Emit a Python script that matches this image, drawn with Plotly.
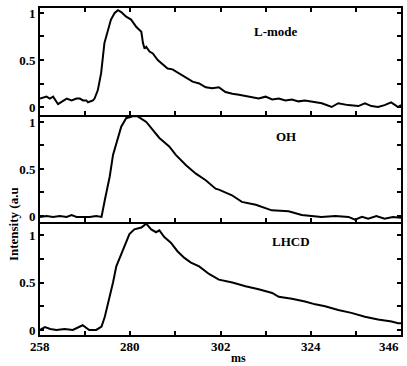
import plotly.graph_objects as go
from plotly.subplots import make_subplots

# ---- data ----
lmode_t = [258, 259.6, 260.4, 261.2, 262.4, 263.6, 264.5, 265.7, 266.9, 267.7, 268.5, 269.3, 269.7, 270.9, 271.3,
           272.1, 272.9, 273.7, 274.5, 275.3, 276.2, 277.0, 277.8, 279.0, 280.2, 281.5, 282.7, 283.1, 283.5, 283.9,
           284.7, 285.5, 286.7, 287.9, 289.1, 290.3, 291.9, 293.6, 295.2, 296.8, 298.4, 300.0, 301.6, 303.2, 304.9,
           306.5, 308.9, 311.3, 313.0, 314.6, 316.2, 317.8, 319.4, 321.0, 322.6, 324.2, 326.7, 329.1, 330.7, 333.1,
           335.6, 337.2, 338.8, 340.4, 342.0, 343.6, 345.3, 346]
lmode_v = [0.09, 0.11, 0.09, 0.11, 0.03, 0.07, 0.09, 0.07, 0.09, 0.09, 0.07, 0.07, 0.05, 0.07, 0.09,
           0.18, 0.36, 0.68, 0.82, 0.93, 1.00, 1.03, 1.01, 0.96, 0.93, 0.85, 0.80, 0.68, 0.62, 0.64,
           0.59, 0.57, 0.50, 0.45, 0.41, 0.40, 0.36, 0.31, 0.27, 0.25, 0.21, 0.20, 0.21, 0.16, 0.14,
           0.13, 0.11, 0.09, 0.11, 0.08, 0.09, 0.07, 0.08, 0.06, 0.07, 0.06, 0.04, 0.00, 0.04, 0.02,
           0.01, 0.04, 0.01, 0.00, 0.02, 0.05, 0.00, 0.02]

oh_t = [258, 259.6, 261.2, 262.8, 264.5, 265.7, 266.9, 268.5, 270.1, 271.7, 273.0,
        273.8, 275.0, 275.8, 277.0, 277.8, 279.0, 280.6, 281.8, 283.9, 287.1, 289.5, 291.1, 293.6,
        296.0, 298.4, 300.8, 301.6, 304.8, 307.2, 310.6, 314.5, 318.6, 321.8, 326.6, 330.0, 333.2,
        334.8, 336.5, 338.0, 340.0, 342.0, 344.0, 346]
oh_v = [-0.01, 0.00, -0.01, 0.00, -0.01, 0.01, -0.01, -0.01, -0.01, 0.00, -0.01,
        0.17, 0.42, 0.65, 0.84, 0.95, 1.04, 1.06, 1.06, 1.00, 0.83, 0.74, 0.65, 0.54,
        0.45, 0.38, 0.29, 0.28, 0.22, 0.15, 0.12, 0.06, 0.05, 0.01, -0.01, 0.00, -0.01,
        -0.04, -0.01, -0.03, 0.00, -0.03, -0.01, -0.02]

lhcd_t = [258, 259.2, 260.5, 262.0, 264.0, 266.0, 268.4, 270.0, 271.7, 273.0, 273.8, 274.6, 275.8, 276.6,
          277.4, 278.6, 279.8, 281.0, 282.7, 283.9, 285.1, 286.3, 287.1, 288.3, 289.9, 291.5, 293.2,
          294.8, 296.8, 299.2, 301.6, 304.9, 308.1, 311.3, 314.6, 316.2, 317.8, 319.4, 322.6, 325.1,
          327.5, 330.7, 333.9, 337.2, 340.4, 343.7, 345.3, 346]
lhcd_v = [0.00, 0.03, 0.01, 0.00, 0.01, 0.00, 0.05, 0.00, 0.00, 0.035, 0.14, 0.28, 0.50, 0.67,
          0.76, 0.88, 1.01, 1.06, 1.08, 1.12, 1.06, 1.03, 1.05, 0.98, 0.92, 0.83, 0.76,
          0.71, 0.67, 0.59, 0.53, 0.50, 0.46, 0.43, 0.39, 0.35, 0.34, 0.33, 0.30, 0.27,
          0.25, 0.21, 0.18, 0.14, 0.11, 0.09, 0.07, 0.07]

x_ticks = [258, 269, 280, 291, 302, 313, 324, 335, 346]
x_label_vals = [258, 280, 302, 324, 346]
x_labels = ["258", "280", "302", "324", "346"]
y_ticks = [0, 0.25, 0.5, 0.75, 1]
y_labels = ["0", "", "0.5", "", "1"]
panel_names = ["L-mode", "OH", "LHCD"]

FONT = "Liberation Serif"

fig = make_subplots(rows=3, cols=1, shared_xaxes=True, vertical_spacing=0)
series = [(lmode_t, lmode_v), (oh_t, oh_v), (lhcd_t, lhcd_v)]
for i, (t, v) in enumerate(series, start=1):
    fig.add_trace(go.Scatter(x=t, y=v, mode="lines", line=dict(color="black", width=2),
                             showlegend=False, hoverinfo="skip"), row=i, col=1)

domains = [[0.6728, 1.0], [0.3456, 0.6728], [0.0, 0.3456]]
ranges = [[-0.085, 1.053], [-0.064, 1.074], [-0.053, 1.138]]
for i in range(3):
    fig.update_yaxes(row=i + 1, col=1, domain=domains[i], range=ranges[i],
                     tickvals=y_ticks, ticktext=y_labels, ticks="inside", ticklen=4,
                     tickwidth=1.5, tickcolor="black", showline=True, linecolor="black",
                     linewidth=1.8, mirror="ticks", showgrid=False, zeroline=False,
                     tickfont=dict(family=FONT, size=13, color="black", weight="bold"))
    fig.update_xaxes(row=i + 1, col=1, range=[258, 346], tickvals=x_ticks,
                     ticks="inside", ticklen=4, tickwidth=1.5, tickcolor="black",
                     showline=True, linecolor="black", linewidth=1.8,
                     mirror=("ticks" if i == 0 else False),
                     showgrid=False, zeroline=False, showticklabels=False)

# x tick labels
for val, txt in zip(x_label_vals, x_labels):
    fig.add_annotation(x=val, y=0, xref="x3", yref="paper", text=txt, showarrow=False,
                       xanchor="right" if val == 346 else "center", yanchor="top", yshift=-2,
                       font=dict(family=FONT, size=13, color="black", weight="bold"))

# panel labels
label_x = [315.5, 317.9, 319.3]
label_y = [0.80, 0.84, 0.93]
yrefs = ["y", "y2", "y3"]
for name, lx, ly, yr in zip(panel_names, label_x, label_y, yrefs):
    fig.add_annotation(x=lx, y=ly, xref="x3", yref=yr, text=name, showarrow=False,
                       font=dict(family=FONT, size=13, color="black", weight="bold"))

fig.add_annotation(x=0.551, y=-0.070, xref="paper", yref="paper", text="ms",
                   showarrow=False, xanchor="center", yanchor="middle",
                   font=dict(family=FONT, size=12, color="black", weight="bold"))
fig.add_annotation(x=-0.075, y=0.339, xref="paper", yref="paper", text="Intensity (a.u",
                   textangle=-90, showarrow=False, xanchor="center", yanchor="middle",
                   font=dict(family=FONT, size=13, color="black", weight="bold"))

fig.update_layout(width=407, height=366, margin=dict(l=40, r=4, t=8, b=31),
                  paper_bgcolor="white", plot_bgcolor="white", hovermode=False)
fig.write_html("out.html", config={"displayModeBar": False},
               post_script="document.body.style.margin='0';document.body.style.overflow='hidden';")
